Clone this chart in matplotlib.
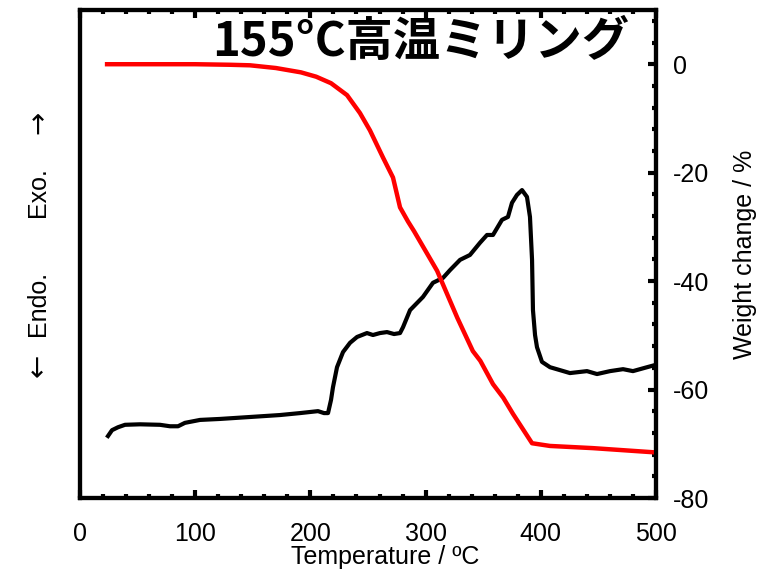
import numpy as np
import matplotlib
matplotlib.use('Agg')
import matplotlib.pyplot as plt
from matplotlib import rc
from matplotlib.ticker import MultipleLocator

rc('font', **{'family': 'Liberation Sans', 'size': 18})
rc('axes', unicode_minus=False)

# DTA trace (arbitrary units, left axis hidden)
dta_T = [24.3, 27.8, 33.0, 39.1, 52.1, 69.4, 78.1, 85.1, 91.1, 104.2, 121.5,
         147.6, 173.6, 191.0, 206.6, 211.8, 215.3, 217.9, 219.6, 223.1, 228.3,
         234.4, 240.5, 249.1, 254.3, 260.4, 266.5, 272.6, 277.8, 280.4, 286.5,
         297.7, 306.4, 315.1, 321.2, 329.9, 338.5, 347.2, 353.3, 358.5, 366.3,
         371.5, 375.0, 379.3, 383.7, 388.0, 390.6, 392.4, 393.2, 395.0, 396.7,
         401.0, 408.0, 416.7, 425.3, 440.1, 448.8, 460.1, 471.4, 480.0, 492.2,
         500.0]
dta_v = [12.7, 13.9, 14.5, 15.0, 15.1, 15.0, 14.7, 14.7, 15.4, 16.0, 16.2,
         16.6, 17.0, 17.4, 17.8, 17.4, 17.4, 20.1, 22.7, 26.8, 29.9,
         31.8, 33.0, 33.8, 33.4, 33.8, 34.0, 33.6, 33.8, 35.0, 38.5,
         41.2, 44.1, 45.1, 46.7, 48.8, 49.8, 52.3, 53.9, 53.9, 57.0,
         57.6, 60.5, 62.1, 63.1, 61.7, 57.6, 48.8, 38.5, 33.4, 30.9,
         27.9, 26.8, 26.2, 25.6, 26.0, 25.4, 26.0, 26.4, 26.0, 26.8,
         27.3]

# TG trace (weight change, %)
tg_T = [23.5, 50, 100, 130, 147.6, 170, 191.8, 205, 217.9, 231.8, 243, 251.7,
        263, 271.7, 277.8, 284.7, 290, 310, 327.6, 341, 347.5, 358.5, 367.4,
        375.9, 392.4, 408, 445, 500]
tg_w = [0.0, 0.0, 0.0, -0.1, -0.2, -0.7, -1.5, -2.3, -3.5, -5.7, -9.0, -12.2,
        -17.2, -20.9, -26.4, -29.0, -30.8, -38.1, -46.8, -52.9, -54.7, -59.0,
        -61.5, -64.5, -69.9, -70.4, -70.8, -71.6]

fig = plt.figure(figsize=(7.64, 5.74), dpi=100)
ax = fig.add_axes([80/764, 76/574, 576/764, 488/574])
ax2 = ax.twinx()

ax.plot(dta_T, dta_v, color='k', lw=3)
ax2.plot(tg_T, tg_w, color='#ff0000', lw=3.2)

ax.set_xlim(0, 500)
ax.set_ylim(0, 100)
ax2.set_ylim(-80, 10)

ax.xaxis.set_major_locator(MultipleLocator(100))
ax.xaxis.set_minor_locator(MultipleLocator(20))
ax2.yaxis.set_major_locator(MultipleLocator(20))
ax2.yaxis.set_minor_locator(MultipleLocator(4))

ax.tick_params(which='both', direction='in', top=True, bottom=True,
               left=False, right=False, labelleft=False, width=3)
ax.tick_params(which='major', length=6, pad=17)
ax.tick_params(which='minor', length=3)
ax2.tick_params(which='both', direction='in', right=True, width=3)
ax2.tick_params(which='major', length=6, pad=12)
ax2.tick_params(which='minor', length=3)
for a in (ax, ax2):
    for s in a.spines.values():
        s.set_linewidth(3)

ax.set_xlabel('Temperature / ºC')
ax.xaxis.set_label_coords((385 - 80)/576, -0.097)
ax2.set_ylabel('Weight change / %')
ax2.yaxis.set_label_coords((733 - 80)/576, 0.5)

arrow_font = ['DejaVu Sans']
fig.text(0.0497, 0.787, '→', rotation=90, ha='center', va='center',
         family=arrow_font, fontsize=20)
fig.text(0.0497, 0.6655, 'Exo.', rotation=90, ha='center', va='center')
fig.text(0.0497, 0.472, 'Endo.', rotation=90, ha='center', va='center')
fig.text(0.0497, 0.364, '←', rotation=90, ha='center', va='center',
         family=arrow_font, fontsize=20)

ax.text(0.592, 0.934, '155°C高温ミリング', transform=ax.transAxes,
        ha='center', va='center', fontsize=34, fontweight='bold',
        family=['Noto Sans CJK JP', 'DejaVu Sans'])

fig.savefig('out.png', dpi=100)
